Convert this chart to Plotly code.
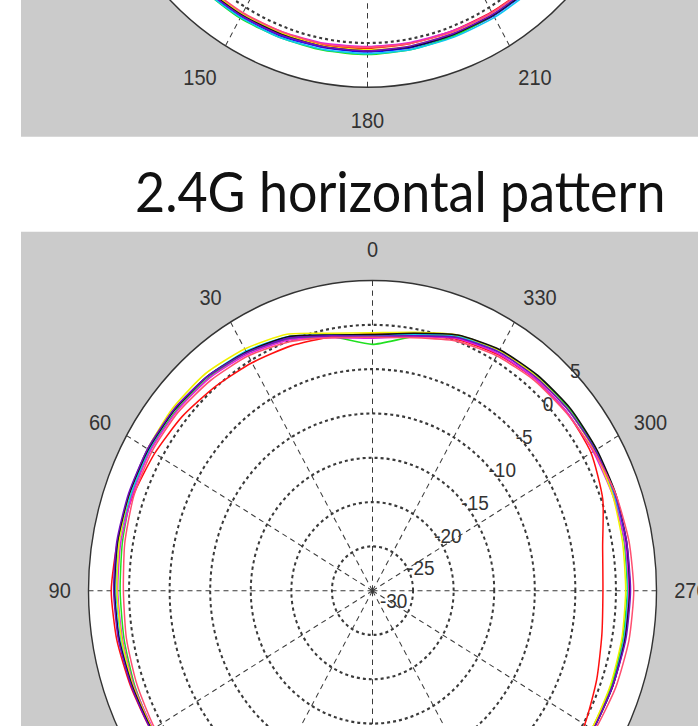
import plotly.graph_objects as go

# ---------------- data (dB values) ----------------
ANGLE_TICKS = list(range(0, 360, 30))
ANGLE_TEXT = [str(a) for a in ANGLE_TICKS]
R_TICKS = [-30, -25, -20, -15, -10, -5, 0, 5]
R_TEXT = [str(v) for v in R_TICKS]

SERIES_NAMES = ["blue", "green", "red", "cyan", "magenta", "yellow", "black", "purple", "pink"]
SERIES_COLORS = ["#1010ff", "#20e020", "#ff1010", "#10c8f0", "#e020e0", "#f0f000", "#101010", "#7010c0", "#ff5070"]

# lower chart: 2.4G horizontal pattern (angles 0..350, step 10)
bottom_angles = [0, 10, 20, 30, 40, 50, 60, 70, 80, 90, 100, 110,
                 120, 130, 140, 150, 160, 170, 180, 190, 200, 210, 220, 230,
                 240, 250, 260, 270, 280, 290, 300, 310, 320, 330, 340, 350]
bottom_blue = [-1.2, -0.8, 0.4, 1.1, 1.6, 1.9, 2.0, 1.9, 1.9, 1.8, 1.7, 1.5,
               1.4, 1.3, 1.1, 1.0, 0.9, 0.8, 0.8, 0.8, 0.9, 1.0, 1.1, 1.2,
               1.3, 1.4, 1.5, 1.6, 1.7, 1.7, 1.7, 1.6, 1.5, 1.2, 0.5, -0.7]
bottom_green = [-2.2, -0.9, 0.2, 1.0, 1.4, 1.6, 1.7, 1.6, 1.3, 1.1, 1.1, 1.2,
                1.3, 1.2, 1.0, 0.9, 0.8, 0.7, 0.7, 0.7, 0.8, 0.9, 1.0, 1.1,
                1.2, 1.3, 1.3, 1.4, 1.5, 1.7, 1.8, 1.8, 1.6, 1.3, 0.5, -0.9]
bottom_red = [-1.0, -0.9, -0.6, -0.3, 0.1, 0.6, 1.0, 1.4, 1.9, 2.2, 2.0, 1.7,
              1.5, 1.3, 1.1, 1.0, 0.9, 0.8, 0.7, 0.7, 0.8, 0.9, 1.0, 0.8,
              0.2, -0.6, -1.3, -1.6, -1.2, 0.2, 1.1, 1.3, 1.2, 0.8, 0.2, -0.8]
bottom_cyan = [-1.2, -0.7, 0.5, 1.2, 1.6, 1.8, 1.8, 1.7, 1.7, 1.6, 1.5, 1.5,
               1.4, 1.3, 1.1, 1.0, 0.9, 0.8, 0.8, 0.8, 0.9, 1.0, 1.1, 1.3,
               1.4, 1.5, 1.5, 1.5, 1.6, 1.7, 1.7, 1.6, 1.5, 1.2, 0.6, -0.6]
bottom_magenta = [-1.5, -1.0, 0.1, 0.8, 1.3, 1.5, 1.6, 1.5, 1.5, 1.4, 1.3, 1.3,
                  1.2, 1.1, 1.0, 0.9, 0.8, 0.7, 0.7, 0.7, 0.8, 0.9, 1.0, 1.2,
                  1.3, 1.5, 1.6, 1.6, 1.6, 1.5, 1.4, 1.3, 1.2, 0.9, 0.3, -0.9]
bottom_yellow = [-0.9, -0.5, 0.8, 1.5, 2.0, 2.1, 2.0, 1.9, 1.7, 1.5, 1.4, 1.4,
                 1.3, 1.2, 1.1, 1.0, 0.9, 0.8, 0.8, 0.8, 0.9, 1.0, 1.0, 1.1,
                 1.2, 1.2, 1.2, 1.2, 1.3, 1.5, 1.6, 1.6, 1.5, 1.3, 0.7, -0.4]
bottom_black = [-1.1, -0.7, 0.5, 1.1, 1.6, 1.8, 1.9, 1.9, 1.9, 1.8, 1.7, 1.5,
                1.4, 1.3, 1.1, 1.0, 0.9, 0.8, 0.8, 0.8, 0.9, 1.0, 1.1, 1.3,
                1.4, 1.5, 1.6, 1.7, 1.8, 1.9, 1.9, 1.9, 1.7, 1.4, 0.7, -0.5]
bottom_purple = [-1.3, -0.8, 0.3, 1.0, 1.6, 1.9, 2.0, 2.0, 2.0, 1.9, 1.8, 1.6,
                 1.5, 1.3, 1.1, 1.0, 0.9, 0.8, 0.8, 0.8, 0.9, 1.0, 1.1, 1.3,
                 1.4, 1.5, 1.7, 1.8, 1.8, 1.8, 1.7, 1.6, 1.4, 1.1, 0.4, -0.8]
bottom_pink = [-1.4, -1.0, -0.1, 0.6, 1.0, 1.3, 1.4, 1.3, 1.0, 0.7, 0.8, 0.9,
               1.0, 0.9, 0.9, 0.8, 0.7, 0.6, 0.6, 0.6, 0.7, 0.9, 1.1, 1.3,
               1.6, 1.9, 2.1, 2.2, 2.1, 1.9, 1.5, 1.2, 1.0, 0.6, 0.0, -1.0]

# upper chart (only its lower part is visible): angles 120..240, step 10
top_angles = [120, 130, 140, 150, 160, 170, 180, 190, 200, 210, 220, 230, 240]
top_blue = [1.5, 1.4, 1.3, 1.2, 1.1, 1.0, 1.0, 1.0, 1.0, 1.1, 1.2, 1.3, 1.4]
top_green = [1.4, 1.4, 1.4, 1.4, 1.3, 1.3, 1.3, 1.2, 1.1, 1.0, 1.1, 1.2, 1.3]
top_red = [1.2, 1.1, 1.0, 0.9, 0.8, 0.7, 0.6, 0.5, 0.5, 0.6, 0.8, 1.0, 1.2]
top_cyan = [1.6, 1.5, 1.4, 1.3, 1.3, 1.2, 1.2, 1.2, 1.2, 1.3, 1.4, 1.5, 1.6]
top_magenta = [1.3, 1.2, 1.0, 0.8, 0.6, 0.5, 0.4, 0.4, 0.5, 0.7, 0.9, 1.1, 1.2]
top_yellow = [1.1, 1.0, 0.9, 0.9, 0.8, 0.8, 0.8, 0.8, 0.8, 0.9, 1.0, 1.1, 1.2]
top_black = [1.3, 1.2, 1.1, 1.0, 0.9, 0.9, 0.9, 0.9, 0.9, 1.0, 1.1, 1.2, 1.3]
top_purple = [1.4, 1.3, 1.2, 1.1, 1.0, 0.9, 0.9, 0.8, 0.8, 0.9, 1.0, 1.2, 1.3]
top_pink = [1.0, 0.9, 0.8, 0.7, 0.6, 0.6, 0.5, 0.5, 0.6, 0.7, 0.8, 0.9, 1.0]

TITLE = "2.4G horizontal pattern"

bottom_series = [bottom_blue, bottom_green, bottom_red, bottom_cyan, bottom_magenta,
                 bottom_yellow, bottom_black, bottom_purple, bottom_pink]
top_series = [top_blue, top_green, top_red, top_cyan, top_magenta,
              top_yellow, top_black, top_purple, top_pink]

# ---------------- geometry ----------------
W, H = 698, 1400
T = 540.0      # part of the figure kept above the visible window (px)
S = 1.092      # vertical stretch of the scanned reference
R = 284.0      # polar radius (px)
R_AXIS_ANGLE = 48


def fy(y_view):
    return T + y_view / S


def py(y_fig):
    return 1 - y_fig / H


def polar_domain(cx, cy_view):
    cy = fy(cy_view)
    return dict(x=[(cx - R) / W, (cx + R) / W], y=[py(cy + R), py(cy - R)])


GRAY = "#cbcbcb"
TXT = "#333333"
GRID = "#3a3a3a"

fig = go.Figure()

for name, color, vals in zip(SERIES_NAMES, SERIES_COLORS, bottom_series):
    fig.add_trace(go.Scatterpolar(
        r=vals + vals[:1], theta=bottom_angles + bottom_angles[:1],
        mode="lines", line=dict(color=color, width=1.5, shape="spline", smoothing=0.6),
        name=name, subplot="polar2", showlegend=False, hoverinfo="skip"))

for name, color, vals in zip(SERIES_NAMES, SERIES_COLORS, top_series):
    fig.add_trace(go.Scatterpolar(
        r=vals, theta=top_angles,
        mode="lines", line=dict(color=color, width=1.5, shape="spline", smoothing=0.6),
        name=name, subplot="polar", showlegend=False, hoverinfo="skip"))


def polar_layout(domain):
    return dict(
        domain=domain,
        bgcolor="white",
        angularaxis=dict(
            rotation=90, direction="counterclockwise",
            tickmode="array", tickvals=ANGLE_TICKS, ticktext=ANGLE_TEXT,
            showline=True, linecolor="#333333", linewidth=1.4,
            showgrid=True, gridcolor=GRID, griddash="5px,4px", gridwidth=1.4,
            ticks="outside", ticklen=13, tickcolor="rgba(0,0,0,0)",
            tickfont=dict(family="Liberation Sans", size=20, color=TXT),
        ),
        radialaxis=dict(
            range=[-30, 5], tickmode="array", tickvals=R_TICKS, ticktext=R_TEXT,
            showline=False, ticks="", angle=R_AXIS_ANGLE, side="clockwise",
            tickangle=R_AXIS_ANGLE,
            showgrid=True, gridcolor=GRID, griddash="dot", gridwidth=1.6,
            tickfont=dict(family="Liberation Sans", size=19, color=TXT),
        ),
    )


fig.update_layout(
    width=W, height=H,
    margin=dict(l=0, r=0, t=0, b=0),
    paper_bgcolor="white",
    polar=polar_layout(polar_domain(367.5, -222.5)),
    polar2=polar_layout(polar_domain(372.5, 591.0)),
    shapes=[
        dict(type="rect", xref="paper", yref="paper", layer="below",
             x0=21 / W, x1=1, y0=py(fy(137)), y1=1, fillcolor=GRAY, line=dict(width=0)),
        dict(type="rect", xref="paper", yref="paper", layer="below",
             x0=21 / W, x1=1, y0=0, y1=py(fy(232)), fillcolor=GRAY, line=dict(width=0)),
    ],
    annotations=[
        dict(text=TITLE, xref="paper", yref="paper", x=400 / W, y=py(fy(190)),
             xanchor="center", yanchor="middle", showarrow=False,
             font=dict(family="Lato", size=52, color="#111111")),
    ],
)

js = """
var gd = document.getElementById('{plot_id}');
document.documentElement.style.overflow = 'hidden';
document.body.style.margin = '0';
document.body.style.overflow = 'hidden';
gd.style.position = 'absolute';
gd.style.left = '0px';
gd.style.top = '%.2fpx';
gd.style.transformOrigin = '0 0';
gd.style.transform = 'scaleY(%.4f)';
""" % (-T * S, S)

fig.write_html("out.html", config={"displayModeBar": False}, post_script=js)
